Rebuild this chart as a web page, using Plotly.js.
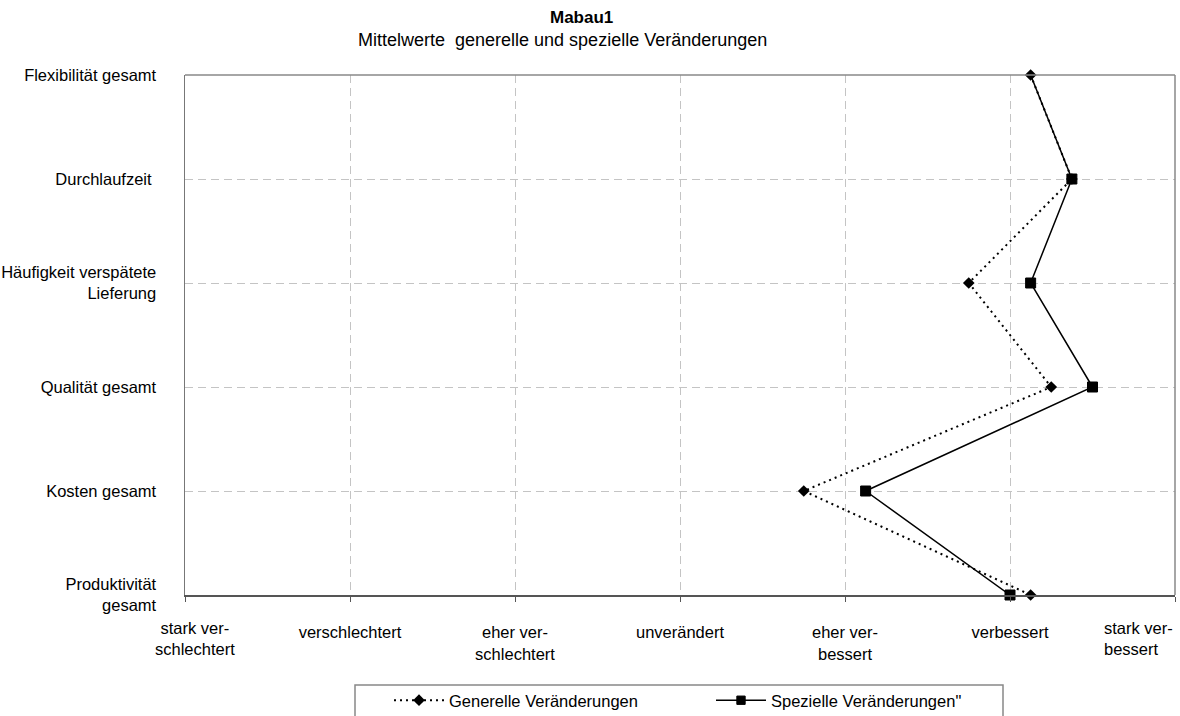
<!DOCTYPE html>
<html>
<head>
<meta charset="utf-8">
<script src="https://cdn.plot.ly/plotly-3.0.1.min.js"></script>
<style>html,body{margin:0;padding:0;background:#fff;}#chart{width:1180px;height:716px;}</style>
</head>
<body>
<div id="chart"></div>
<script>
const categories = ["Flexibilität gesamt", "Durchlaufzeit ", "Häufigkeit verspätete<br>Lieferung", "Qualität gesamt", "Kosten gesamt", "Produktivität<br>gesamt"];
const scaleLabels = ["stark ver-<br>schlechtert", "verschlechtert", "eher ver-<br>schlechtert", "unverändert", "eher ver-<br>bessert", "verbessert", "stark ver-<br>bessert"];
const scaleValues = [1, 2, 3, 4, 5, 6, 7];
const generelle = [6.125, 6.375, 5.75, 6.25, 4.75, 6.125];
const spezielle = [6.125, 6.375, 6.125, 6.5, 5.125, 6.0];
const chartTitle = "Mabau1";
const chartSubtitle = "Mittelwerte&nbsp; generelle und spezielle Veränderungen";

const yIdx = categories.map((_, i) => i);
const font = "Liberation Sans, Arial, sans-serif";
const fs = 16.5;

const traces = [
  {
    x: generelle, y: yIdx, type: "scatter", mode: "lines+markers",
    name: "Generelle Veränderungen",
    line: {color: "#000", width: 2, dash: "2px,4px"},
    marker: {symbol: "diamond", size: 9, color: "rgb(0,0,0)", opacity: 1},
    cliponaxis: false
  },
  {
    x: spezielle, y: yIdx, type: "scatter", mode: "lines+markers",
    name: "Spezielle Veränderungen\"",
    line: {color: "#000", width: 1.5},
    marker: {symbol: "square", size: spezielle.map((_, i) => i === 0 ? 0 : 10), color: "rgb(0,0,0)", opacity: 1,
             line: {color: "rgb(0,0,0)", width: 1}},
    cliponaxis: false
  }
];

const xTickText = scaleLabels.map((t, i) => (i === 0 || i === scaleLabels.length - 1) ? "" : t);
const last = scaleLabels.length - 1;

const layout = {
  width: 1180, height: 716,
  margin: {l: 185, r: 5, t: 75, b: 121},
  paper_bgcolor: "#fff", plot_bgcolor: "#fff",
  font: {family: font, size: fs, color: "#000"},
  annotations: [
    {text: "<b>" + chartTitle + "</b>", xref: "paper", yref: "paper",
     x: (581 - 185) / 990, y: (595 - 18) / 520, xanchor: "center", yanchor: "middle",
     showarrow: false, font: {family: font, size: 17, color: "#000"}},
    {text: chartSubtitle, xref: "paper", yref: "paper",
     x: (562 - 185) / 990, y: (595 - 40) / 520, xanchor: "center", yanchor: "middle",
     showarrow: false, font: {family: font, size: 18, color: "#000"}},
    {text: scaleLabels[0], xref: "x", yref: "paper", x: scaleValues[0], y: 0, xshift: 10, yshift: -22,
     xanchor: "center", yanchor: "top", showarrow: false, align: "center",
     font: {family: font, size: fs, color: "#000"}},
    {text: scaleLabels[last], xref: "x", yref: "paper", x: scaleValues[last], y: 0, xshift: -37, yshift: -22,
     xanchor: "center", yanchor: "top", showarrow: false, align: "left",
     font: {family: font, size: fs, color: "#000"}}
  ],
  xaxis: {
    range: [1, 7], tickvals: scaleValues, ticktext: xTickText,
    showgrid: true, gridcolor: "#c4c4c4", griddash: "8px,5px", gridwidth: 1,
    zeroline: false, showline: true, linecolor: "#555", linewidth: 1.5, mirror: false,
    ticks: "outside", ticklen: 5, tickcolor: "#555",
    ticklabelstandoff: 17, automargin: false,
    tickfont: {family: font, size: fs, color: "#000"},
    fixedrange: true
  },
  yaxis: {
    range: [categories.length - 1, 0], tickvals: yIdx, ticktext: categories,
    showgrid: true, gridcolor: "#c4c4c4", griddash: "8px,5px", gridwidth: 1,
    zeroline: false, showline: true, linecolor: "#777", linewidth: 1.5,
    ticks: "", ticklabelstandoff: 24, automargin: false,
    tickfont: {family: font, size: fs, color: "#000"},
    fixedrange: true
  },
  shapes: [
    {type: "line", xref: "paper", yref: "paper", x0: 0, x1: 1, y0: 1, y1: 1, line: {color: "#888", width: 1.5}},
    {type: "line", xref: "paper", yref: "paper", x0: 1, x1: 1, y0: 0, y1: 1, line: {color: "#888", width: 1.5}},
    {type: "rect", xref: "paper", yref: "paper", x0: (355 - 185) / 990, x1: (1003 - 185) / 990,
     y0: (595 - 725) / 520, y1: (595 - 685) / 520, line: {color: "#888", width: 1.5}, fillcolor: "rgba(0,0,0,0)"}
  ],
  showlegend: true,
  legend: {
    orientation: "h", x: (389 - 185) / 990, xanchor: "left",
    y: 1 - 683 / 716, yanchor: "top", yref: "container",
    borderwidth: 0, bgcolor: "rgba(0,0,0,0)",
    font: {family: font, size: fs, color: "#000"},
    entrywidth: 257, itemwidth: 50
  }
};

Plotly.newPlot("chart", traces, layout, {displayModeBar: false, staticPlot: true});
</script>
</body>
</html>
